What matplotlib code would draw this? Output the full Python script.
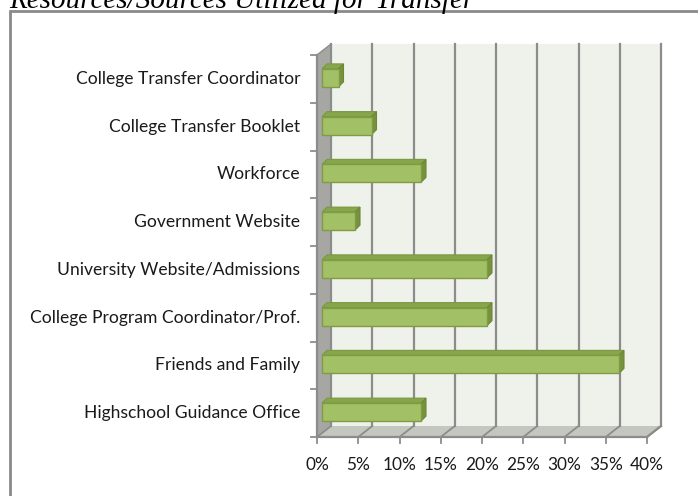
import matplotlib.pyplot as plt
from matplotlib.patches import Polygon, Rectangle

# data (bottom to top)
categories = ["Highschool Guidance Office", "Friends and Family",
              "College Program Coordinator/Prof.", "University Website/Admissions",
              "Government Website", "Workforce", "College Transfer Booklet",
              "College Transfer Coordinator"]
values = [12, 36, 20, 20, 4, 12, 6, 2]
xticks = [0, 5, 10, 15, 20, 25, 30, 35, 40]
xtick_labels = ["0%", "5%", "10%", "15%", "20%", "25%", "30%", "35%", "40%"]
title = "Resources/Sources Utilized for Transfer"

W, H = 698, 496
fig = plt.figure(figsize=(W / 100, H / 100), dpi=100)

# outer frame + title (cut at top like the original scan)
fig.patches.append(Rectangle((10 / W, -0.1), (W + 20) / W, (H - 11) / H + 0.1,
                             transform=fig.transFigure, fill=False,
                             edgecolor="#8a8a8a", linewidth=2))
fig.text(9 / W, 1 - 8 / H, title, family="Liberation Serif", style="italic",
         fontsize=21, va="baseline", ha="left")

# front plane of the 3d box in pixels
x0, x1 = 317, 647
y_top, y_bot = 55, 437
ax = fig.add_axes([x0 / W, (H - y_bot) / H, (x1 - x0) / W, (y_bot - y_top) / H])
xmax = 40
n = len(categories)
ax.set_xlim(0, xmax)
ax.set_ylim(-0.5, n - 0.5)
ax.axis("off")

pxx = (x1 - x0) / xmax
pxy = (y_bot - y_top) / n
# depth of walls and bars (pixels -> data)
dx, dy = 14 / pxx, 11 / pxy
bdx, bdy = 5 / pxx, 5 / pxy
gx, gy = 5 / pxx, 1 / pxy
bh = 18 / pxy

grid_c = "#8c8c8c"
lo, hi = -0.5, n - 0.5

# back wall
ax.add_patch(Polygon([(dx, lo + dy), (xmax + dx, lo + dy), (xmax + dx, hi + dy), (dx, hi + dy)],
                     closed=True, facecolor="#eff2eb", edgecolor="none", clip_on=False, zorder=1))
# side wall
ax.add_patch(Polygon([(0, lo), (dx, lo + dy), (dx, hi + dy), (0, hi)],
                     closed=True, facecolor="#a6a7a2", edgecolor="none", clip_on=False, zorder=2))
# floor
ax.add_patch(Polygon([(0, lo), (xmax, lo), (xmax + dx, lo + dy), (dx, lo + dy)],
                     closed=True, facecolor="#c4c7c0", edgecolor="none", clip_on=False, zorder=2))
# gridlines on back wall and floor
for t in xticks:
    ax.plot([t + dx, t + dx], [lo + dy, hi + dy], color=grid_c, lw=1.6, clip_on=False, zorder=3)
    ax.plot([t, t + dx], [lo, lo + dy], color=grid_c, lw=1.3, clip_on=False, zorder=3)
ax.plot([xmax, xmax + dx], [lo, lo + dy], color=grid_c, lw=1.6, clip_on=False, zorder=3)

# axes lines and ticks
ax.plot([0, xmax], [lo, lo], color=grid_c, lw=1.6, clip_on=False, zorder=4)
ax.plot([0, 0], [lo, hi], color=grid_c, lw=1.6, clip_on=False, zorder=4)
for t in xticks:
    ax.plot([t, t], [lo, lo - 6 / pxy], color=grid_c, lw=1.3, clip_on=False, zorder=4)
for k in range(n + 1):
    ax.plot([0, -6 / pxx], [lo + k, lo + k], color=grid_c, lw=1.3, clip_on=False, zorder=4)
ax.plot([0, dx], [hi, hi + dy], color=grid_c, lw=1.0, clip_on=False, zorder=4)

# 3d bars
ys = list(range(n))
bars = ax.barh([y + gy for y in ys], values, height=bh, left=gx, color="#a2c166",
               edgecolor="#7f9c45", linewidth=1, zorder=6)
for b in bars:
    bx, by = b.get_x(), b.get_y()
    bw, bhh = b.get_width(), b.get_height()
    ax.add_patch(Polygon([(bx, by + bhh), (bx + bw, by + bhh), (bx + bw + bdx, by + bhh + bdy),
                          (bx + bdx, by + bhh + bdy)], closed=True, facecolor="#87a54b",
                         edgecolor="#7a9841", linewidth=0.8, zorder=5))
    ax.add_patch(Polygon([(bx + bw, by), (bx + bw + bdx, by + bdy), (bx + bw + bdx, by + bhh + bdy),
                          (bx + bw, by + bhh)], closed=True, facecolor="#76923c",
                         edgecolor="#6d8837", linewidth=0.8, zorder=5))

# labels
lab_font = ["Lato", "DejaVu Sans"]
for y, c in zip(ys, categories):
    ax.text(-17 / pxx, y, c, ha="right", va="center", fontsize=12.6,
            family=lab_font, color="#1a1a1a")
for t, l in zip(xticks, xtick_labels):
    ax.text(t, lo - 28 / pxy, l, ha="center", va="center", fontsize=12.4,
            family=lab_font, color="#1a1a1a")

fig.savefig("out.png", dpi=100)
